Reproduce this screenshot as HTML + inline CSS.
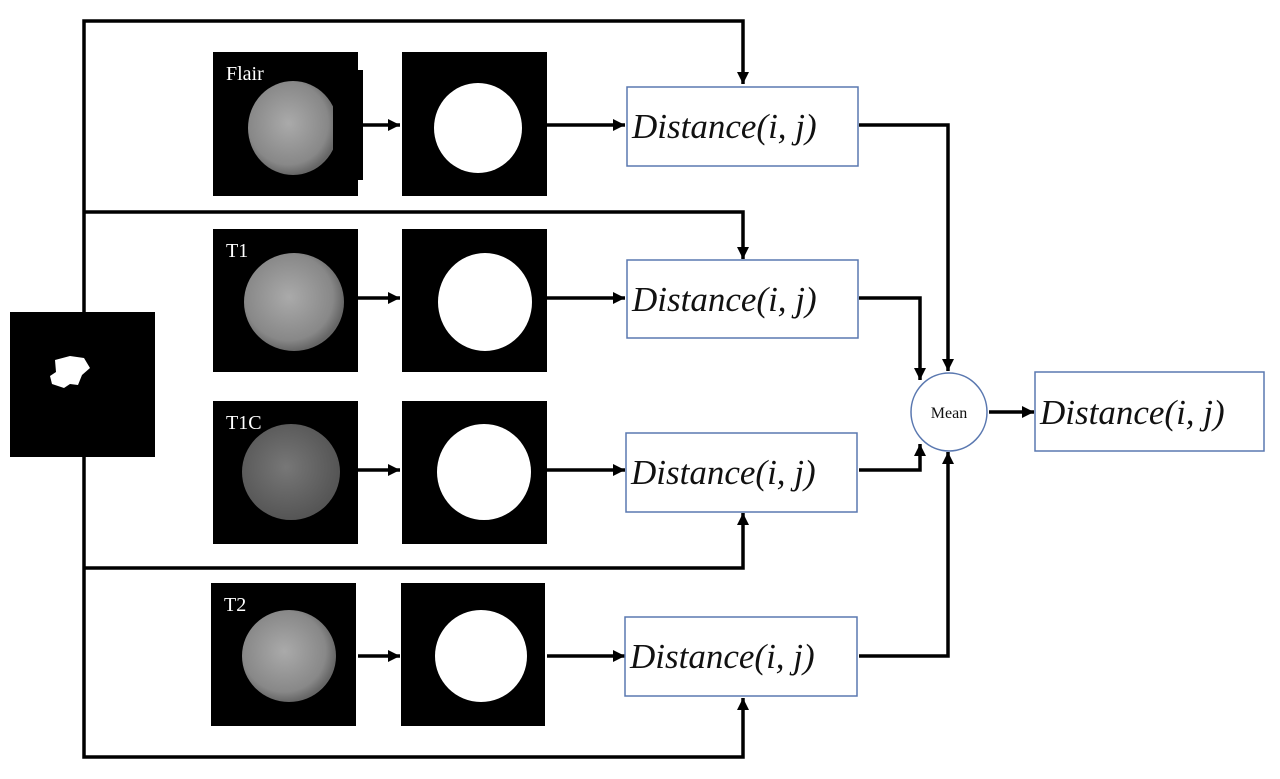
<!DOCTYPE html>
<html><head><meta charset="utf-8"><style>
html,body{margin:0;padding:0;background:#fff;}
svg{display:block;}
.d{font-family:"Liberation Serif",serif;font-style:italic;font-size:35px;fill:#111;}
.l{font-family:"Liberation Serif",serif;font-size:20px;fill:#fff;}
</style></head><body>
<svg width="1280" height="779" viewBox="0 0 1280 779" xmlns="http://www.w3.org/2000/svg">
<defs>
<marker id="a" markerWidth="8" markerHeight="8" refX="7" refY="4" orient="auto" markerUnits="userSpaceOnUse"><path d="M0,0 L12,4 L0,8 Z" transform="scale(0.66,1)" fill="#000"/></marker>
<marker id="b" viewBox="0 0 10 10" markerWidth="12" markerHeight="12" refX="10" refY="5" orient="auto" markerUnits="userSpaceOnUse"><path d="M0,0 L10,5 L0,10 Z" fill="#000"/></marker>
<radialGradient id="g1" cx="45%" cy="45%" r="55%"><stop offset="0" stop-color="#aaa"/><stop offset="0.8" stop-color="#888"/><stop offset="1" stop-color="#666"/></radialGradient>
<radialGradient id="g2" cx="45%" cy="45%" r="55%"><stop offset="0" stop-color="#777"/><stop offset="1" stop-color="#555"/></radialGradient>
</defs>
<g fill="none" stroke="#000" stroke-width="3.5">
<polyline points="84,312 84,21 743,21 743,84" marker-end="url(#b)"/>
<polyline points="84,212 743,212 743,259" marker-end="url(#b)"/>
<polyline points="84,457 84,757 743,757 743,698" marker-end="url(#b)"/>
<polyline points="84,568 743,568 743,513" marker-end="url(#b)"/>
<line x1="358" y1="125" x2="400" y2="125" marker-end="url(#b)"/>
<line x1="547" y1="125" x2="625" y2="125" marker-end="url(#b)"/>
<line x1="358" y1="298" x2="400" y2="298" marker-end="url(#b)"/>
<line x1="547" y1="298" x2="625" y2="298" marker-end="url(#b)"/>
<line x1="358" y1="470" x2="400" y2="470" marker-end="url(#b)"/>
<line x1="547" y1="470" x2="625" y2="470" marker-end="url(#b)"/>
<line x1="358" y1="656" x2="400" y2="656" marker-end="url(#b)"/>
<line x1="547" y1="656" x2="625" y2="656" marker-end="url(#b)"/>
<polyline points="859,125 948,125 948,371" marker-end="url(#b)"/>
<polyline points="859,298 920,298 920,380" marker-end="url(#b)"/>
<polyline points="859,470 920,470 920,444" marker-end="url(#b)"/>
<polyline points="859,656 948,656 948,452" marker-end="url(#b)"/>
<line x1="989" y1="412" x2="1034" y2="412" marker-end="url(#b)"/>
</g>
<!-- left mask -->
<rect x="10" y="312" width="145" height="145" fill="#000"/>
<path d="M55,360 L70,356 L84,358 L90,368 L82,375 L78,385 L70,384 L64,388 L52,384 L50,376 L56,372 Z" fill="#fff"/>
<!-- image column 1 -->
<rect x="213" y="52" width="145" height="144" fill="#000"/>
<ellipse cx="293" cy="128" rx="45" ry="47" fill="url(#g1)"/>
<rect x="333" y="70" width="30" height="110" fill="#000"/>
<text x="226" y="80" class="l">Flair</text>
<rect x="213" y="229" width="145" height="143" fill="#000"/>
<ellipse cx="294" cy="302" rx="50" ry="49" fill="url(#g1)"/>
<text x="226" y="257" class="l">T1</text>
<rect x="213" y="401" width="145" height="143" fill="#000"/>
<ellipse cx="291" cy="472" rx="49" ry="48" fill="url(#g2)"/>
<text x="226" y="429" class="l">T1C</text>
<rect x="211" y="583" width="145" height="143" fill="#000"/>
<ellipse cx="289" cy="656" rx="47" ry="46" fill="url(#g1)"/>
<text x="224" y="611" class="l">T2</text>
<!-- masks column 2 -->
<rect x="402" y="52" width="145" height="144" fill="#000"/>
<ellipse cx="478" cy="128" rx="44" ry="45" fill="#fff"/>
<rect x="523" y="70" width="20" height="110" fill="#000"/>
<rect x="402" y="229" width="145" height="143" fill="#000"/>
<ellipse cx="485" cy="302" rx="47" ry="49" fill="#fff"/>
<rect x="402" y="401" width="145" height="143" fill="#000"/>
<ellipse cx="484" cy="472" rx="47" ry="48" fill="#fff"/>
<rect x="401" y="583" width="144" height="143" fill="#000"/>
<ellipse cx="481" cy="656" rx="46" ry="46" fill="#fff"/>
<!-- distance boxes -->
<g fill="#fff" stroke="#5a78b0" stroke-width="1.5">
<rect x="627" y="87" width="231" height="79"/>
<rect x="627" y="260" width="231" height="78"/>
<rect x="626" y="433" width="231" height="79"/>
<rect x="625" y="617" width="232" height="79"/>
<rect x="1035" y="372" width="229" height="79"/>
<ellipse cx="949" cy="412" rx="38" ry="39"/>
</g>
<text x="632" y="138" class="d">Distance(i, j)</text>
<text x="632" y="311" class="d">Distance(i, j)</text>
<text x="631" y="484" class="d">Distance(i, j)</text>
<text x="630" y="668" class="d">Distance(i, j)</text>
<text x="1040" y="424" class="d">Distance(i, j)</text>
<text x="949" y="418" text-anchor="middle" font-family="Liberation Serif,serif" font-size="16" fill="#111">Mean</text>
</svg>
</body></html>
